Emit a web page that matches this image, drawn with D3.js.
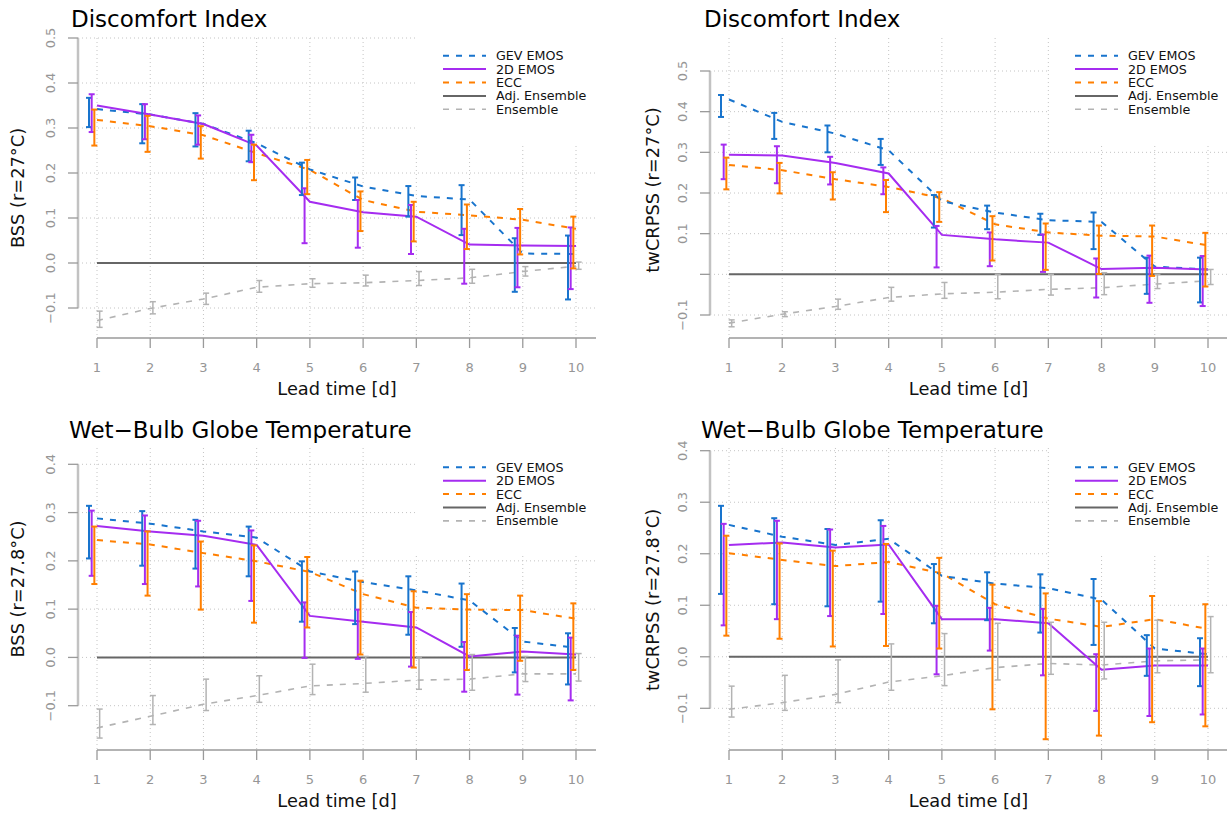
<!DOCTYPE html>
<html>
<head>
<meta charset="utf-8">
<script src="https://cdn.jsdelivr.net/npm/d3@7"></script>
<style>
  html, body { margin: 0; padding: 0; background: #fff; }
  text { font-family: "DejaVu Sans", sans-serif; }
</style>
</head>
<body>
<script>
// ---------------- DATA ----------------
const leadTimes = [1, 2, 3, 4, 5, 6, 7, 8, 9, 10];
const xTickLabels = ["1", "2", "3", "4", "5", "6", "7", "8", "9", "10"];
const seriesNames = ["GEV EMOS", "2D EMOS", "ECC", "Adj. Ensemble", "Ensemble"];
const yTicksDI = [-0.1, 0.0, 0.1, 0.2, 0.3, 0.4, 0.5];
const yTicksWBGT = [-0.1, 0.0, 0.1, 0.2, 0.3, 0.4];
const adjEnsemble = [0, 0, 0, 0, 0, 0, 0, 0, 0, 0];

// Panel 1: Discomfort Index, BSS
const diBssGev    = [0.342, 0.330, 0.309, 0.266, 0.208, 0.170, 0.149, 0.141, 0.021, 0.020];
const diBssGevLo  = [0.302, 0.266, 0.259, 0.226, 0.151, 0.140, 0.103, 0.062, -0.064, -0.081];
const diBssGevHi  = [0.367, 0.353, 0.333, 0.294, 0.223, 0.190, 0.171, 0.173, 0.055, 0.061];
const diBss2d     = [0.350, 0.330, 0.309, 0.261, 0.136, 0.113, 0.103, 0.041, 0.039, 0.038];
const diBss2dLo   = [0.291, 0.275, 0.263, 0.224, 0.044, 0.034, 0.020, -0.046, -0.054, -0.058];
const diBss2dHi   = [0.375, 0.353, 0.328, 0.285, 0.166, 0.140, 0.129, 0.076, 0.078, 0.079];
const diBssEcc    = [0.318, 0.304, 0.284, 0.244, 0.207, 0.140, 0.114, 0.106, 0.096, 0.076];
const diBssEccLo  = [0.261, 0.247, 0.232, 0.184, 0.153, 0.071, 0.048, 0.031, 0.019, -0.012];
const diBssEccHi  = [0.341, 0.327, 0.304, 0.263, 0.229, 0.159, 0.136, 0.130, 0.120, 0.103];
const diBssEns    = [-0.128, -0.101, -0.080, -0.054, -0.046, -0.044, -0.039, -0.033, -0.019, -0.007];
const diBssEnsLo  = [-0.143, -0.113, -0.092, -0.065, -0.054, -0.051, -0.050, -0.045, -0.029, -0.014];
const diBssEnsHi  = [-0.107, -0.086, -0.067, -0.039, -0.035, -0.027, -0.019, -0.014, -0.008, 0.002];

// Panel 2: Discomfort Index, twCRPSS
const diCrpGev    = [0.430, 0.375, 0.346, 0.305, 0.180, 0.152, 0.133, 0.129, 0.019, 0.012];
const diCrpGevLo  = [0.387, 0.333, 0.300, 0.269, 0.115, 0.111, 0.097, 0.062, -0.048, -0.069];
const diCrpGevHi  = [0.441, 0.397, 0.366, 0.333, 0.195, 0.169, 0.149, 0.152, 0.041, 0.041];
const diCrp2d     = [0.294, 0.292, 0.274, 0.248, 0.097, 0.086, 0.078, 0.013, 0.016, 0.012];
const diCrp2dLo   = [0.234, 0.224, 0.221, 0.197, 0.017, 0.020, 0.006, -0.057, -0.070, -0.078];
const diCrp2dHi   = [0.319, 0.315, 0.289, 0.263, 0.119, 0.103, 0.098, 0.039, 0.046, 0.045];
const diCrpEcc    = [0.269, 0.256, 0.234, 0.215, 0.187, 0.123, 0.103, 0.095, 0.093, 0.071];
const diCrpEccLo  = [0.209, 0.199, 0.184, 0.153, 0.129, 0.034, 0.011, 0.001, -0.004, -0.030];
const diCrpEccHi  = [0.287, 0.274, 0.251, 0.232, 0.202, 0.143, 0.125, 0.120, 0.120, 0.102];
const diCrpEns    = [-0.120, -0.098, -0.079, -0.057, -0.048, -0.044, -0.037, -0.033, -0.024, -0.016];
const diCrpEnsLo  = [-0.129, -0.104, -0.086, -0.066, -0.059, -0.060, -0.051, -0.050, -0.035, -0.025];
const diCrpEnsHi  = [-0.112, -0.092, -0.061, -0.032, -0.020, 0.000, 0.000, 0.004, 0.000, 0.012];

// Panel 3: Wet-Bulb Globe Temperature, BSS
const wbBssGev    = [0.288, 0.277, 0.261, 0.248, 0.178, 0.156, 0.139, 0.118, 0.033, 0.020];
const wbBssGevLo  = [0.205, 0.190, 0.184, 0.168, 0.074, 0.069, 0.047, 0.022, -0.031, -0.056];
const wbBssGevHi  = [0.314, 0.303, 0.285, 0.271, 0.199, 0.178, 0.168, 0.153, 0.061, 0.050];
const wbBss2d     = [0.272, 0.261, 0.252, 0.233, 0.086, 0.074, 0.062, 0.002, 0.012, 0.006];
const wbBss2dLo   = [0.169, 0.152, 0.147, 0.117, -0.001, -0.003, -0.019, -0.071, -0.077, -0.089];
const wbBss2dHi   = [0.304, 0.294, 0.283, 0.263, 0.114, 0.099, 0.094, 0.032, 0.045, 0.041];
const wbBssEcc    = [0.243, 0.234, 0.216, 0.199, 0.177, 0.131, 0.103, 0.099, 0.098, 0.080];
const wbBssEccLo  = [0.152, 0.128, 0.099, 0.072, 0.062, 0.006, -0.021, -0.026, -0.007, -0.026];
const wbBssEccHi  = [0.271, 0.261, 0.240, 0.232, 0.208, 0.159, 0.137, 0.131, 0.128, 0.112];
const wbBssEns    = [-0.146, -0.122, -0.097, -0.079, -0.059, -0.054, -0.047, -0.045, -0.034, -0.034];
const wbBssEnsLo  = [-0.167, -0.139, -0.110, -0.093, -0.077, -0.072, -0.066, -0.068, -0.050, -0.049];
const wbBssEnsHi  = [-0.107, -0.079, -0.045, -0.038, -0.014, 0.002, -0.001, 0.006, 0.002, 0.008];

// Panel 4: Wet-Bulb Globe Temperature, twCRPSS
const wbCrpGev    = [0.256, 0.233, 0.217, 0.229, 0.157, 0.142, 0.133, 0.111, 0.016, 0.005];
const wbCrpGevLo  = [0.122, 0.102, 0.098, 0.107, 0.065, 0.071, 0.047, 0.023, -0.037, -0.057];
const wbCrpGevHi  = [0.293, 0.269, 0.248, 0.265, 0.180, 0.164, 0.160, 0.151, 0.042, 0.036];
const wbCrp2d     = [0.217, 0.222, 0.212, 0.218, 0.073, 0.073, 0.065, -0.025, -0.017, -0.017];
const wbCrp2dLo   = [0.061, 0.073, 0.079, 0.083, -0.034, 0.012, -0.036, -0.105, -0.115, -0.112];
const wbCrp2dHi   = [0.258, 0.264, 0.247, 0.254, 0.099, 0.095, 0.093, 0.005, 0.016, 0.016];
const wbCrpEcc    = [0.201, 0.188, 0.176, 0.184, 0.162, 0.102, 0.074, 0.058, 0.073, 0.054];
const wbCrpEccLo  = [0.041, 0.035, 0.020, 0.021, 0.016, -0.102, -0.160, -0.153, -0.127, -0.135];
const wbCrpEccHi  = [0.235, 0.220, 0.206, 0.219, 0.192, 0.140, 0.123, 0.108, 0.118, 0.102];
const wbCrpEns    = [-0.102, -0.089, -0.073, -0.049, -0.037, -0.021, -0.013, -0.016, -0.008, -0.006];
const wbCrpEnsLo  = [-0.117, -0.104, -0.089, -0.065, -0.056, -0.045, -0.034, -0.043, -0.031, -0.031];
const wbCrpEnsHi  = [-0.057, -0.036, -0.006, 0.025, 0.045, 0.065, 0.067, 0.067, 0.071, 0.078];

// ---------------- STYLE ----------------
const styles = [
  { color: "#1874CD", dash: "6,7", width: 2,   errOffset: -0.15, errWidth: 2 },   // GEV EMOS
  { color: "#A52CF0", dash: null,  width: 2,   errOffset: -0.10, errWidth: 2 },   // 2D EMOS
  { color: "#FF7F00", dash: "6,7", width: 2,   errOffset: -0.05, errWidth: 2 },   // ECC
  { color: "#666666", dash: null,  width: 2,   errOffset: 0,     errWidth: 0 },   // Adj. Ensemble
  { color: "#B3B3B3", dash: "6,7", width: 1.6, errOffset: 0.05,  errWidth: 1.5 }  // Ensemble
];

const panels = [
  { title: "Discomfort Index", ylab: "BSS (r=27°C)", yTicks: yTicksDI, hideZero: false,
    series: [[diBssGev, diBssGevLo, diBssGevHi], [diBss2d, diBss2dLo, diBss2dHi], [diBssEcc, diBssEccLo, diBssEccHi], [adjEnsemble, null, null], [diBssEns, diBssEnsLo, diBssEnsHi]],
    L: { axisX: 78, right: 596, top: 38, bottom: 338, x0: 97, x1: 576, yDom: [-0.1, 0.5], yRng: [308, 38],
         titleX: 71, titleY: 27, ylabX: 18, ylabY: 188, legX: 443, legY: 55.7, boxL: 415, boxT: 0, boxB: 145 } },
  { title: "Discomfort Index", ylab: "twCRPSS (r=27°C)", yTicks: yTicksDI, hideZero: true,
    series: [[diCrpGev, diCrpGevLo, diCrpGevHi], [diCrp2d, diCrp2dLo, diCrp2dHi], [diCrpEcc, diCrpEccLo, diCrpEccHi], [adjEnsemble, null, null], [diCrpEns, diCrpEnsLo, diCrpEnsHi]],
    L: { axisX: 710, right: 1227, top: 38, bottom: 338, x0: 729, x1: 1208, yDom: [-0.1, 0.5], yRng: [315, 71],
         titleX: 704, titleY: 27, ylabX: 653, ylabY: 190, legX: 1075, legY: 55.7, boxL: 1049, boxT: 0, boxB: 145 } },
  { title: "Wet\u2212Bulb Globe Temperature", ylab: "BSS (r=27.8°C)", yTicks: yTicksWBGT, hideZero: false,
    series: [[wbBssGev, wbBssGevLo, wbBssGevHi], [wbBss2d, wbBss2dLo, wbBss2dHi], [wbBssEcc, wbBssEccLo, wbBssEccHi], [adjEnsemble, null, null], [wbBssEns, wbBssEnsLo, wbBssEnsHi]],
    L: { axisX: 78, right: 596, top: 448, bottom: 750, x0: 97, x1: 576, yDom: [-0.1, 0.4], yRng: [705.7, 464.3],
         titleX: 69, titleY: 438, ylabX: 18, ylabY: 589, legX: 443, legY: 467.3, boxL: 415, boxT: 445, boxB: 555 } },
  { title: "Wet\u2212Bulb Globe Temperature", ylab: "twCRPSS (r=27.8°C)", yTicks: yTicksWBGT, hideZero: false,
    series: [[wbCrpGev, wbCrpGevLo, wbCrpGevHi], [wbCrp2d, wbCrp2dLo, wbCrp2dHi], [wbCrpEcc, wbCrpEccLo, wbCrpEccHi], [adjEnsemble, null, null], [wbCrpEns, wbCrpEnsLo, wbCrpEnsHi]],
    L: { axisX: 710, right: 1227, top: 448, bottom: 750, x0: 729, x1: 1208, yDom: [-0.1, 0.4], yRng: [708.3, 450.7],
         titleX: 701, titleY: 438, ylabX: 653, ylabY: 600, legX: 1075, legY: 467.3, boxL: 1049, boxT: 445, boxB: 555 } }
];

// ---------------- DRAW ----------------
const svg = d3.select("body").append("svg").attr("width", 1229).attr("height", 814);
svg.append("rect").attr("width", 1229).attr("height", 814).attr("fill", "#fff");

const gridColor = "#c4c4c4";
const tickLabelColor = "#969696";

panels.forEach(p => {
  const L = p.L;
  const g = svg.append("g");
  const x = d3.scaleLinear().domain([1, 10]).range([L.x0, L.x1]);
  const y = d3.scaleLinear().domain(L.yDom).range(L.yRng);

  // grid: horizontal
  g.selectAll(".hg").data(p.yTicks).join("line")
    .attr("x1", L.axisX).attr("x2", L.right)
    .attr("y1", d => y(d)).attr("y2", d => y(d))
    .attr("stroke", gridColor).attr("stroke-width", 1).attr("stroke-dasharray", "1,3");
  // grid: vertical
  g.selectAll(".vg").data(leadTimes).join("line")
    .attr("x1", d => x(d)).attr("x2", d => x(d))
    .attr("y1", L.top).attr("y2", L.bottom)
    .attr("stroke", gridColor).attr("stroke-width", 1).attr("stroke-dasharray", "1,3");

  // legend background box (covers grid)
  g.append("rect").attr("x", L.boxL).attr("y", L.boxT)
    .attr("width", L.right - L.boxL + 2).attr("height", L.boxB - L.boxT).attr("fill", "#fff");

  // y axis
  g.append("line").attr("x1", L.axisX).attr("x2", L.axisX)
    .attr("y1", y(p.yTicks[0])).attr("y2", y(p.yTicks[p.yTicks.length - 1]))
    .attr("stroke", "#c2c2c2").attr("stroke-width", 2.5);
  g.selectAll(".yt").data(p.yTicks).join("line")
    .attr("x1", L.axisX - 10).attr("x2", L.axisX)
    .attr("y1", d => y(d)).attr("y2", d => y(d))
    .attr("stroke", "#9a9a9a").attr("stroke-width", 1.3);
  g.selectAll(".yl").data(p.yTicks.filter(d => !(p.hideZero && d === 0))).join("text")
    .attr("transform", d => `translate(${L.axisX - 23},${y(d)}) rotate(-90)`)
    .attr("text-anchor", "middle").attr("font-size", 13).attr("fill", tickLabelColor)
    .text(d => d3.format(".1f")(d).replace("-", "\u2212"));

  // x axis
  g.append("line").attr("x1", x(1)).attr("x2", L.right)
    .attr("y1", L.bottom).attr("y2", L.bottom)
    .attr("stroke", "#9a9a9a").attr("stroke-width", 1.3);
  g.selectAll(".xt").data(leadTimes).join("line")
    .attr("x1", d => x(d)).attr("x2", d => x(d))
    .attr("y1", L.bottom).attr("y2", L.bottom + 10)
    .attr("stroke", "#9a9a9a").attr("stroke-width", 1.3);
  g.selectAll(".xl").data(leadTimes).join("text")
    .attr("x", d => x(d)).attr("y", L.bottom + 34)
    .attr("text-anchor", "middle").attr("font-size", 13).attr("fill", tickLabelColor)
    .text((d, i) => xTickLabels[i]);

  // axis titles
  g.append("text").attr("x", (L.axisX + L.right) / 2).attr("y", L.bottom + 57)
    .attr("text-anchor", "middle").attr("font-size", 17.8).attr("fill", "#111")
    .text("Lead time [d]");
  g.append("text").attr("transform", `translate(${L.ylabX + 6},${L.ylabY}) rotate(-90)`)
    .attr("text-anchor", "middle").attr("font-size", 17.8).attr("fill", "#111")
    .text(p.ylab);

  // title
  g.append("text").attr("x", L.titleX).attr("y", L.titleY)
    .attr("font-size", 23).attr("fill", "#000").text(p.title);

  // series lines (draw Adj. Ensemble first, then others)
  const line = d3.line().x((d, i) => x(leadTimes[i])).y(d => y(d));
  const order = [3, 4, 2, 0, 1];
  order.forEach(si => {
    const st = styles[si];
    const [vals] = p.series[si];
    g.append("path").datum(vals).attr("d", line)
      .attr("fill", "none").attr("stroke", st.color).attr("stroke-width", st.width)
      .attr("stroke-dasharray", st.dash);
  });

  // error bars
  [4, 0, 1, 2].forEach(si => {
    const st = styles[si];
    const [vals, lo, hi] = p.series[si];
    const eb = g.append("g");
    leadTimes.forEach((lt, i) => {
      const cx = x(lt + st.errOffset);
      const cap = 3;
      eb.append("line").attr("x1", cx).attr("x2", cx).attr("y1", y(lo[i])).attr("y2", y(hi[i]))
        .attr("stroke", st.color).attr("stroke-width", st.errWidth);
      [lo[i], hi[i]].forEach(v => {
        eb.append("line").attr("x1", cx - cap).attr("x2", cx + cap).attr("y1", y(v)).attr("y2", y(v))
          .attr("stroke", st.color).attr("stroke-width", st.errWidth);
      });
    });
  });

  // legend
  const lg = g.append("g");
  seriesNames.forEach((name, i) => {
    const st = styles[i];
    const ly = L.legY + i * 13.4;
    lg.append("line").attr("x1", L.legX).attr("x2", L.legX + 43).attr("y1", ly).attr("y2", ly)
      .attr("stroke", st.color).attr("stroke-width", st.width).attr("stroke-dasharray", st.dash);
    lg.append("text").attr("x", L.legX + 53).attr("y", ly).attr("dy", "0.36em")
      .attr("font-size", 12.7).attr("fill", "#111").text(name);
  });
});
</script>
</body>
</html>
